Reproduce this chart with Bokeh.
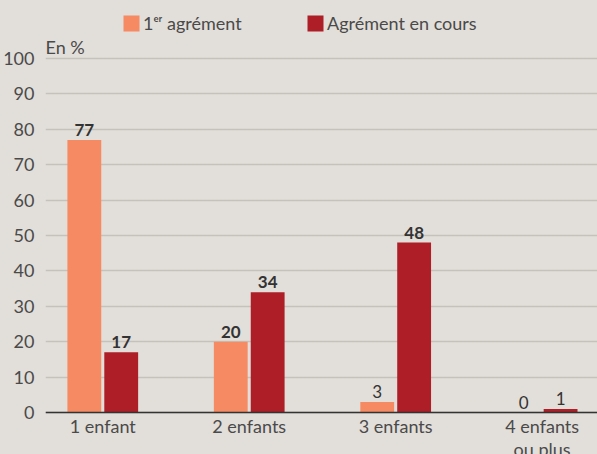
from bokeh.plotting import figure
from bokeh.models import (ColumnDataSource, Range1d, FixedTicker, Legend, LegendItem,
                          Label, Span)
from bokeh.core.properties import value
from bokeh.embed import file_html
from bokeh.resources import INLINE

# ---- data ----
categories = ["1 enfant", "2 enfants", "3 enfants", "4 enfants\nou plus"]
premier_agrement = [77, 20, 3, 0]
agrement_en_cours = [17, 34, 48, 1]
y_ticks = [0, 10, 20, 30, 40, 50, 60, 70, 80, 90, 100]
series_names = ["1ᵉʳ agrément", "Agrément en cours"]

BG = "#e2ded9"
ORANGE = "#f68b63"
RED = "#ae1e26"
TXT = "#4a4a4a"
FONT = "Lato"

idx = list(range(len(categories)))
off = 0.126
bw = 0.231

src1 = ColumnDataSource(dict(
    x=[i - off for i in idx], top=premier_agrement,
    lab=[str(v) for v in premier_agrement],
    style=["bold" if v >= 10 else "normal" for v in premier_agrement]))
src2 = ColumnDataSource(dict(
    x=[i + off for i in idx], top=agrement_en_cours,
    lab=[str(v) for v in agrement_en_cours],
    style=["bold" if v >= 10 else "normal" for v in agrement_en_cours]))
cat_src = ColumnDataSource(dict(x=idx, y=[0] * len(idx), text=categories))

p = figure(width=597, height=454, output_backend="svg", toolbar_location=None,
           x_range=Range1d(-0.391, 3.378), y_range=Range1d(-11.86, 116.38),
           min_border_left=43, min_border_right=0, min_border_top=0,
           min_border_bottom=0)
p.background_fill_color = BG
p.border_fill_color = BG
p.outline_line_color = None

r1 = p.vbar(x="x", top="top", width=bw, bottom=0, source=src1,
            fill_color=ORANGE, line_color=None)
r2 = p.vbar(x="x", top="top", width=bw, bottom=0, source=src2,
            fill_color=RED, line_color=None)

for s in (src1, src2):
    p.text(x="x", y="top", text="lab", source=s, text_align="center",
           text_baseline="bottom", y_offset=-4, text_font=value(FONT),
           text_font_size="17px", text_font_style="style", text_color="#333333")

# y axis
p.yaxis.ticker = FixedTicker(ticks=y_ticks)
p.yaxis.axis_line_color = None
p.yaxis.major_tick_line_color = None
p.yaxis.minor_tick_line_color = None
p.yaxis.major_label_text_font = FONT
p.yaxis.major_label_text_font_size = "18px"
p.yaxis.major_label_text_color = TXT
p.yaxis.major_label_standoff = 5

# x axis line drawn at zero, category labels beneath it
p.xaxis.visible = False
p.add_layout(Span(location=0, dimension="width", line_color="#333333", line_width=1.5))
p.text(x="x", y="y", text="text", source=cat_src, text_align="center",
       text_baseline="top", y_offset=2, text_font=value(FONT),
       text_font_size="18px", text_color=TXT, text_line_height=1.05)

p.xgrid.visible = False
p.ygrid.ticker = FixedTicker(ticks=y_ticks)
p.ygrid.grid_line_color = "#c5c1bd"
p.ygrid.grid_line_width = 1.5

# "En %" label
p.add_layout(Label(x=-0.391, y=100, text="En %", text_align="left",
                   text_baseline="alphabetic", y_offset=11, text_font=FONT,
                   text_font_size="18px", text_color=TXT))

legend = Legend(items=[LegendItem(label=series_names[0], renderers=[r1]),
                       LegendItem(label=series_names[1], renderers=[r2])],
                location=(76, 420), orientation="horizontal",
                glyph_width=20, glyph_height=20, label_standoff=2,
                label_width=162, spacing=0, padding=0, margin=0,
                border_line_color=None, background_fill_alpha=0,
                label_text_font=FONT, label_text_font_size="18px",
                label_text_color=TXT)
p.add_layout(legend, "center")

html = file_html(p, INLINE)
html = html.replace("<head>", "<head><style>html,body{background:%s;}</style>" % BG, 1)
open("out.html", "w").write(html)
